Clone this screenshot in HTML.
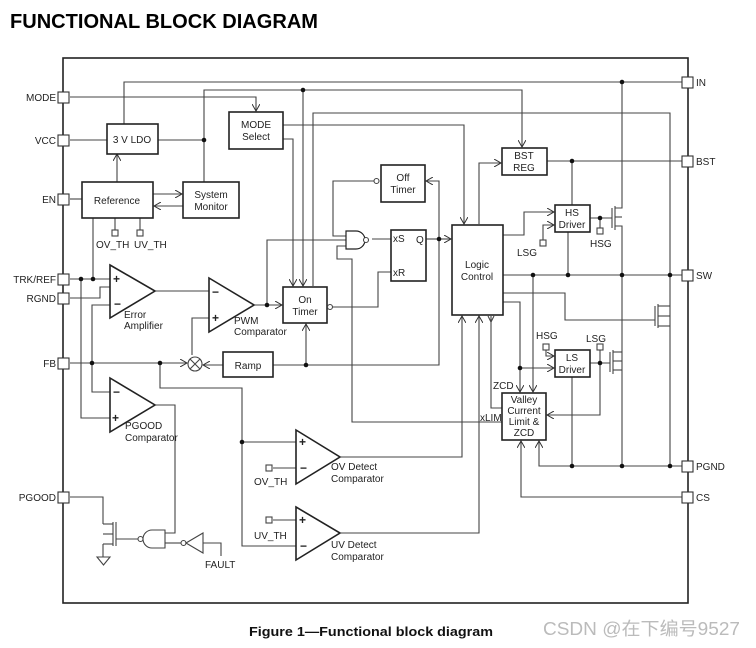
<!DOCTYPE html>
<html><head><meta charset="utf-8"><style>
html,body{margin:0;padding:0;background:#fff;}
svg{display:block;}
text{font-family:"Liberation Sans",Arial,sans-serif;fill:#222;}
.s{font-size:10px;}
.pm{font-size:12px;font-weight:bold;fill:#111;}
</style></head><body>
<svg width="756" height="648" viewBox="0 0 756 648" xmlns="http://www.w3.org/2000/svg">
<defs>
<marker id="a" markerWidth="8" markerHeight="8" refX="7" refY="4" orient="auto" markerUnits="userSpaceOnUse">
<path d="M0,0 L7,4 L0,8" fill="none" stroke="#333" stroke-width="1"/></marker>
</defs>
<text x="10" y="28" style="font-size:20px;font-weight:bold;fill:#000" textLength="308" lengthAdjust="spacingAndGlyphs">FUNCTIONAL BLOCK DIAGRAM</text>

<g fill="none" stroke="#444" stroke-width="1.1">
<rect x="63" y="58" width="625" height="545" stroke="#222" stroke-width="1.6"/>

<polyline points="124,124 124,82 682,82"/>
<polyline points="70,97 256,97 256,111" marker-end="url(#a)"/>
<polyline points="204,182 204,90 522,90 522,147" marker-end="url(#a)"/>
<polyline points="70,140 107,140"/>
<polyline points="158,140 204,140"/>
<polyline points="303,90 303,286" marker-end="url(#a)"/>
<polyline points="313,286 313,113 670,113 670,466"/>
<polyline points="283,125 464,125 464,224" marker-end="url(#a)"/>
<polyline points="283,139 293,139 293,286" marker-end="url(#a)"/>
<polyline points="117,182 117,154" marker-end="url(#a)"/>
<line x1="70" y1="199" x2="82" y2="199"/>
<polyline points="153,194 182,194" marker-end="url(#a)"/>
<polyline points="183,206 154,206" marker-end="url(#a)"/>
<line x1="115" y1="218" x2="115" y2="230"/><line x1="140" y1="218" x2="140" y2="230"/>
<rect x="112" y="230" width="6" height="6"/><rect x="137" y="230" width="6" height="6"/>

<polyline points="70,279 110,279"/>
<polyline points="93,279 93,218"/>
<polyline points="70,298 100,298 100,287 110,287"/>
<polyline points="110,305 92,305 92,392 110,392"/>
<polyline points="81,279 81,418 110,418"/>
<polyline points="155,291 209,291"/>
<polyline points="254,305 282,305" marker-end="url(#a)"/>
<polyline points="267,305 267,240 346,240"/>
<polyline points="192,355 192,318 209,318"/>
<polyline points="70,363 187,363" marker-end="url(#a)"/>
<polyline points="223,365 203,365" marker-end="url(#a)"/>
<polyline points="273,365 439,365 439,181 426,181" marker-end="url(#a)"/>
<polyline points="306,365 306,324" marker-end="url(#a)"/>
<polyline points="439,239 451,239" marker-end="url(#a)"/>
<line x1="426" y1="239" x2="439" y2="239"/>
<polyline points="374,181 333,181 333,236 346,236"/>
<polyline points="346,246 337,246 337,259 352,259 352,422 502,422"/>
<line x1="372" y1="239" x2="391" y2="239"/>
<polyline points="333,307 378,307 378,272 391,272"/>
<polyline points="160,363 160,388 242,388 242,546 296,546"/>
<line x1="242" y1="442" x2="296" y2="442"/>
<line x1="273" y1="468" x2="296" y2="468"/>
<line x1="273" y1="520" x2="296" y2="520"/>
<rect x="266" y="465" width="6" height="6"/><rect x="266" y="517" width="6" height="6"/>
<polyline points="340,457 462,457 462,316" marker-end="url(#a)"/>
<polyline points="340,533 479,533 479,316" marker-end="url(#a)"/>
<polyline points="491,316 491,408 502,408"/>
<path d="M491,322 l-3,-6 M491,322 l3,-6"/>
<polyline points="155,405 175,405 175,533 165,533"/>
<polyline points="70,497 103,497 103,524"/>
<line x1="103" y1="524" x2="113" y2="524"/><line x1="113" y1="522" x2="113" y2="546"/>
<line x1="116" y1="522" x2="116" y2="546"/><line x1="103" y1="544" x2="113" y2="544"/>
<polyline points="103,534 113,534"/>
<polyline points="103,544 103,557"/>
<path d="M97,557 L110,557 L103.5,565 Z"/>
<line x1="116" y1="539" x2="138" y2="539"/>
<circle cx="140.5" cy="539" r="2.5"/>
<path d="M165,530 L152,530 A9,9 0 0 0 152,548 L165,548 Z"/>
<line x1="165" y1="543" x2="181" y2="543"/>
<circle cx="183.5" cy="543" r="2.5"/>
<path d="M186,543 L203,533 L203,553 Z"/>
<polyline points="203,543 221,543 221,556"/>

<polyline points="479,224 479,163 501,163" marker-end="url(#a)"/>
<polyline points="547,161 682,161"/>
<polyline points="572,161 572,205"/>
<polyline points="503,235 524,235 524,212 554,212" marker-end="url(#a)"/>
<polyline points="543,240 543,225 554,225" marker-end="url(#a)"/>
<rect x="540" y="240" width="6" height="6"/>
<line x1="568" y1="232" x2="568" y2="275"/>
<polyline points="590,218 612,218"/>
<line x1="600" y1="218" x2="600" y2="228"/><rect x="597" y="228" width="6" height="6"/>
<line x1="612" y1="208" x2="612" y2="228"/><line x1="615" y1="206" x2="615" y2="230"/>
<polyline points="615,208 622,208 622,82"/><polyline points="615,226 622,226 622,466"/>
<line x1="615" y1="217" x2="622" y2="217"/>
<polyline points="503,275 682,275"/>
<polyline points="503,293 565,293 565,320 655,320"/>
<line x1="655" y1="306" x2="655" y2="326"/><line x1="658" y1="304" x2="658" y2="328"/>
<polyline points="658,306 670,306"/><polyline points="658,326 670,326"/><line x1="658" y1="316" x2="670" y2="316"/>
<polyline points="503,302 520,302 520,392" marker-end="url(#a)"/>
<polyline points="520,368 554,368" marker-end="url(#a)"/>
<polyline points="533,275 533,392" marker-end="url(#a)"/>
<polyline points="546,350 546,356 554,356" marker-end="url(#a)"/>
<rect x="543" y="344" width="6" height="6"/>
<polyline points="590,363 610,363"/>
<polyline points="600,350 600,415 547,415" marker-end="url(#a)"/>
<rect x="597" y="344" width="6" height="6"/>
<line x1="610" y1="352" x2="610" y2="372"/><line x1="613" y1="350" x2="613" y2="374"/>
<polyline points="613,352 622,352"/><polyline points="613,370 622,370"/><line x1="613" y1="361" x2="622" y2="361"/>
<line x1="572" y1="377" x2="572" y2="466"/>
<polyline points="682,466 539,466 539,441" marker-end="url(#a)"/>
<polyline points="682,497 521,497 521,441" marker-end="url(#a)"/>

<g fill="#fff" stroke="#333">
<rect x="58" y="92" width="11" height="11"/><rect x="58" y="135" width="11" height="11"/>
<rect x="58" y="194" width="11" height="11"/><rect x="58" y="274" width="11" height="11"/>
<rect x="58" y="293" width="11" height="11"/><rect x="58" y="358" width="11" height="11"/>
<rect x="58" y="492" width="11" height="11"/>
<rect x="682" y="77" width="11" height="11"/><rect x="682" y="156" width="11" height="11"/>
<rect x="682" y="270" width="11" height="11"/><rect x="682" y="461" width="11" height="11"/>
<rect x="682" y="492" width="11" height="11"/>
</g>

<g fill="#fff" stroke="#222" stroke-width="1.6">
<rect x="107" y="124" width="51" height="30"/>
<rect x="82" y="182" width="71" height="36"/>
<rect x="183" y="182" width="56" height="36"/>
<rect x="229" y="112" width="54" height="37"/>
<rect x="381" y="165" width="44" height="37"/>
<rect x="391" y="230" width="35" height="51"/>
<rect x="452" y="225" width="51" height="90"/>
<rect x="283" y="287" width="44" height="36"/>
<rect x="223" y="352" width="50" height="25"/>
<rect x="502" y="148" width="45" height="27"/>
<rect x="555" y="205" width="35" height="27"/>
<rect x="555" y="350" width="35" height="27"/>
<rect x="502" y="393" width="44" height="47"/>
<path d="M110,265 L155,291 L110,318 Z"/>
<path d="M209,278 L254,305 L209,332 Z"/>
<path d="M110,378 L155,405 L110,432 Z"/>
<path d="M296,430 L340,457 L296,484 Z"/>
<path d="M296,507 L340,533 L296,560 Z"/>
<path d="M346,231 L356,231 A9,9 0 0 1 356,249 L346,249 Z" stroke-width="1.2"/>
</g>
<circle cx="376.5" cy="181" r="2.5" fill="#fff"/>
<circle cx="366" cy="240" r="2.5" fill="#fff"/>
<circle cx="330" cy="307" r="2.5" fill="#fff"/>
<circle cx="195" cy="364" r="7" fill="#fff"/>
<path d="M190,359 L200,369 M200,359 L190,369"/>
</g>

<g fill="#111">
<circle cx="622" cy="82" r="2.3"/><circle cx="303" cy="90" r="2.3"/><circle cx="204" cy="140" r="2.3"/>
<circle cx="81" cy="279" r="2.3"/><circle cx="93" cy="279" r="2.3"/><circle cx="92" cy="363" r="2.3"/>
<circle cx="160" cy="363" r="2.3"/><circle cx="267" cy="305" r="2.3"/><circle cx="306" cy="365" r="2.3"/>
<circle cx="439" cy="239" r="2.3"/><circle cx="242" cy="442" r="2.3"/>
<circle cx="572" cy="161" r="2.3"/><circle cx="600" cy="218" r="2.3"/>
<circle cx="533" cy="275" r="2.3"/><circle cx="568" cy="275" r="2.3"/><circle cx="622" cy="275" r="2.3"/><circle cx="670" cy="275" r="2.3"/>
<circle cx="520" cy="368" r="2.3"/><circle cx="600" cy="363" r="2.3"/>
<circle cx="572" cy="466" r="2.3"/><circle cx="622" cy="466" r="2.3"/><circle cx="670" cy="466" r="2.3"/>
</g>

<g class="pm">
<text x="113" y="283">+</text><text x="114" y="308">−</text>
<text x="212" y="296">−</text><text x="212" y="322">+</text>
<text x="113" y="396">−</text><text x="112" y="422">+</text>
<text x="299" y="446">+</text><text x="300" y="472">−</text>
<text x="299" y="524">+</text><text x="300" y="550">−</text>
</g>

<g class="s">
<text x="56" y="101" text-anchor="end">MODE</text>
<text x="56" y="144" text-anchor="end">VCC</text>
<text x="56" y="203" text-anchor="end">EN</text>
<text x="56" y="283" text-anchor="end">TRK/REF</text>
<text x="56" y="302" text-anchor="end">RGND</text>
<text x="56" y="367" text-anchor="end">FB</text>
<text x="56" y="501" text-anchor="end">PGOOD</text>
<text x="696" y="86">IN</text><text x="696" y="165">BST</text><text x="696" y="279">SW</text>
<text x="696" y="470">PGND</text><text x="696" y="501">CS</text>
<text x="132" y="143" text-anchor="middle">3 V LDO</text>
<text x="117" y="204" text-anchor="middle">Reference</text>
<text x="211" y="198" text-anchor="middle">System</text><text x="211" y="210" text-anchor="middle">Monitor</text>
<text x="256" y="128" text-anchor="middle">MODE</text><text x="256" y="140" text-anchor="middle">Select</text>
<text x="403" y="181" text-anchor="middle">Off</text><text x="403" y="193" text-anchor="middle">Timer</text>
<text x="393" y="242">xS</text><text x="393" y="276">xR</text><text x="416" y="243">Q</text>
<text x="477" y="268" text-anchor="middle">Logic</text><text x="477" y="280" text-anchor="middle">Control</text>
<text x="305" y="303" text-anchor="middle">On</text><text x="305" y="315" text-anchor="middle">Timer</text>
<text x="248" y="369" text-anchor="middle">Ramp</text>
<text x="524" y="159" text-anchor="middle">BST</text><text x="524" y="171" text-anchor="middle">REG</text>
<text x="572" y="216" text-anchor="middle">HS</text><text x="572" y="228" text-anchor="middle">Driver</text>
<text x="572" y="361" text-anchor="middle">LS</text><text x="572" y="373" text-anchor="middle">Driver</text>
<text x="524" y="403" text-anchor="middle">Valley</text><text x="524" y="414" text-anchor="middle">Current</text>
<text x="524" y="425" text-anchor="middle">Limit &amp;</text><text x="524" y="436" text-anchor="middle">ZCD</text>
<text x="96" y="248">OV_TH</text><text x="134" y="248">UV_TH</text>
<text x="124" y="318">Error</text><text x="124" y="329">Amplifier</text>
<text x="234" y="324">PWM</text><text x="234" y="335">Comparator</text>
<text x="125" y="429">PGOOD</text><text x="125" y="441">Comparator</text>
<text x="331" y="470">OV Detect</text><text x="331" y="482">Comparator</text>
<text x="331" y="548">UV Detect</text><text x="331" y="560">Comparator</text>
<text x="254" y="485">OV_TH</text><text x="254" y="539">UV_TH</text>
<text x="205" y="568">FAULT</text>
<text x="537" y="246" text-anchor="end" dy="10">LSG</text>
<text x="590" y="247">HSG</text>
<text x="536" y="339">HSG</text><text x="586" y="342">LSG</text>
<text x="493" y="389">ZCD</text><text x="480" y="421">xLIM</text>
</g>
<text x="249" y="636" style="font-size:13px;font-weight:bold;fill:#111" textLength="244" lengthAdjust="spacingAndGlyphs">Figure 1—Functional block diagram</text>
<text x="543" y="635" style="font-size:18px;fill:#bbb;font-family:'Liberation Sans','Noto Sans CJK SC',sans-serif" textLength="197" lengthAdjust="spacingAndGlyphs">CSDN @在下编号9527</text>
</svg>
</body></html>
